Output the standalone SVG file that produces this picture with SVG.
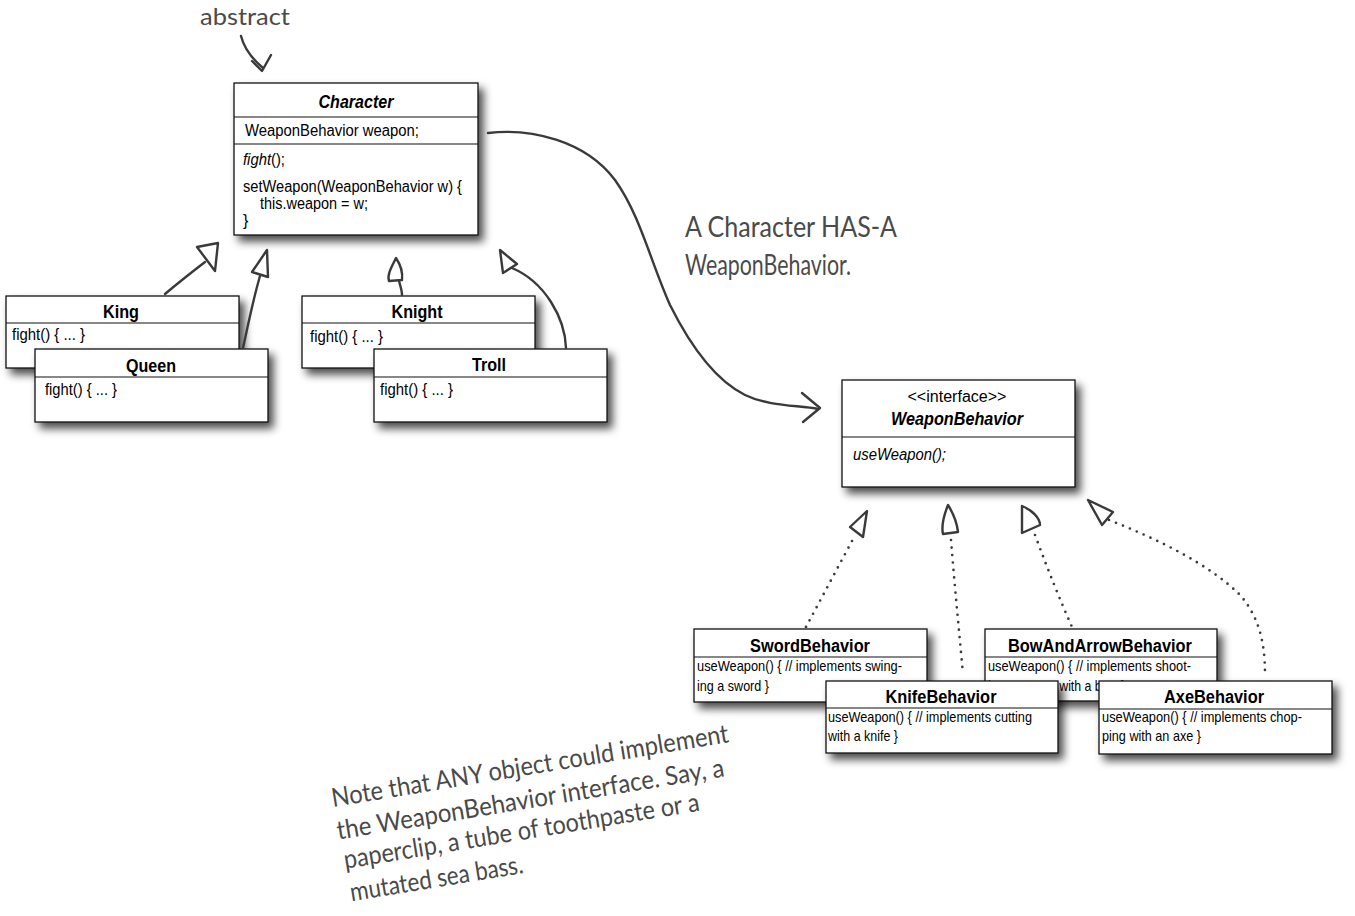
<svg xmlns="http://www.w3.org/2000/svg" width="1355" height="916" viewBox="0 0 1355 916">
<style>
.box{fill:#fff;stroke:#111;stroke-width:1.3;filter:url(#sh)}
.div{stroke:#111;stroke-width:1.2}
.ttl{font-family:"Liberation Sans",Arial,sans-serif;font-weight:bold;font-size:17.5px;fill:#000;text-anchor:middle}
.t{font-family:"Liberation Sans",Arial,sans-serif;font-size:16px;fill:#000}
.s{font-family:"Liberation Sans",Arial,sans-serif;font-size:15px;fill:#000}
.hand{font-family:Lato,"Open Sans",sans-serif;fill:#4a4a4a}
.ln{fill:none;stroke:#3a3a3a;stroke-width:2.4;stroke-linecap:round;stroke-linejoin:round}
.hd{fill:#fff;stroke:#3a3a3a;stroke-width:2.4;stroke-linejoin:round}
.dot{fill:none;stroke:#3a3a3a;stroke-width:2.7;stroke-linecap:round;stroke-dasharray:0 7.5}
</style>
<defs>
<filter id="sh" x="-10%" y="-10%" width="130%" height="140%">
<feDropShadow dx="5" dy="6" stdDeviation="4" flood-color="#000" flood-opacity="0.7"/>
</filter>
</defs>
<rect width="1355" height="916" fill="#fff"/>

<g id="abstract-note">
<text class="hand" x="200" y="25" font-size="24" textLength="90" lengthAdjust="spacingAndGlyphs">abstract</text>
</g>

<g id="Character">
<rect class="box" x="234" y="83" width="244" height="152"/>
<line class="div" x1="234" y1="117" x2="478" y2="117"/>
<line class="div" x1="234" y1="144" x2="478" y2="144"/>
<text class="ttl" x="356" y="108" font-style="italic" font-size="18" textLength="75" lengthAdjust="spacingAndGlyphs">Character</text>
<text class="t" x="245" y="136" font-size="17" textLength="174" lengthAdjust="spacingAndGlyphs">WeaponBehavior weapon;</text>
<text class="t" x="243" y="165" font-size="17" textLength="42" lengthAdjust="spacingAndGlyphs"><tspan font-style="italic">fight</tspan>();</text>
<text class="t" x="243" y="192" font-size="17" textLength="219" lengthAdjust="spacingAndGlyphs">setWeapon(WeaponBehavior w) {</text>
<text class="t" x="260" y="209" font-size="17" textLength="108" lengthAdjust="spacingAndGlyphs">this.weapon = w;</text>
<text class="t" x="243" y="226" font-size="17">}</text>
</g>

<g id="King">
<rect class="box" x="6" y="296" width="233" height="72"/>
<line class="div" x1="6" y1="323" x2="239" y2="323"/>
<text class="ttl" x="121" y="318" textLength="36" lengthAdjust="spacingAndGlyphs">King</text>
<text class="t" x="12" y="340" textLength="73" lengthAdjust="spacingAndGlyphs">fight() { ... }</text>
</g>

<g id="Queen">
<rect class="box" x="35" y="349" width="233" height="73"/>
<line class="div" x1="35" y1="377" x2="268" y2="377"/>
<text class="ttl" x="151" y="372" textLength="50" lengthAdjust="spacingAndGlyphs">Queen</text>
<text class="t" x="45" y="395" textLength="72" lengthAdjust="spacingAndGlyphs">fight() { ... }</text>
</g>

<g id="Knight">
<rect class="box" x="302" y="296" width="233" height="72"/>
<line class="div" x1="302" y1="323" x2="535" y2="323"/>
<text class="ttl" x="417" y="318" textLength="51" lengthAdjust="spacingAndGlyphs">Knight</text>
<text class="t" x="310" y="342" textLength="73" lengthAdjust="spacingAndGlyphs">fight() { ... }</text>
</g>

<g id="Troll">
<rect class="box" x="374" y="349" width="233" height="73"/>
<line class="div" x1="374" y1="377" x2="607" y2="377"/>
<text class="ttl" x="489" y="371" textLength="34" lengthAdjust="spacingAndGlyphs">Troll</text>
<text class="t" x="380" y="395" textLength="73" lengthAdjust="spacingAndGlyphs">fight() { ... }</text>
</g>

<g id="has-a-note">
<text class="hand" x="685" y="237" font-size="28" textLength="212" lengthAdjust="spacingAndGlyphs">A Character HAS-A</text>
<text class="hand" x="685" y="275" font-size="28" textLength="166" lengthAdjust="spacingAndGlyphs">WeaponBehavior.</text>
</g>

<g id="WeaponBehavior">
<rect class="box" x="842" y="380" width="233" height="107"/>
<line class="div" x1="842" y1="437" x2="1075" y2="437"/>
<text class="t" x="957" y="402" font-size="17" text-anchor="middle" textLength="99" lengthAdjust="spacingAndGlyphs">&lt;&lt;interface&gt;&gt;</text>
<text class="ttl" x="957" y="425" font-style="italic" font-size="18" textLength="132" lengthAdjust="spacingAndGlyphs">WeaponBehavior</text>
<text class="t" x="853" y="460" font-size="17" font-style="italic" textLength="93" lengthAdjust="spacingAndGlyphs">useWeapon();</text>
</g>

<g id="SwordBehavior">
<rect class="box" x="694" y="629" width="233" height="73"/>
<line class="div" x1="694" y1="657" x2="927" y2="657"/>
<text class="ttl" x="810" y="652" textLength="120" lengthAdjust="spacingAndGlyphs">SwordBehavior</text>
<text class="s" x="697" y="671" textLength="205" lengthAdjust="spacingAndGlyphs">useWeapon() { // implements swing-</text>
<text class="s" x="697" y="691" textLength="72" lengthAdjust="spacingAndGlyphs">ing a sword }</text>
</g>

<g id="BowAndArrowBehavior">
<rect class="box" x="985" y="629" width="232" height="72"/>
<line class="div" x1="985" y1="657" x2="1217" y2="657"/>
<text class="ttl" x="1100" y="652" textLength="184" lengthAdjust="spacingAndGlyphs">BowAndArrowBehavior</text>
<text class="s" x="988" y="671" textLength="203" lengthAdjust="spacingAndGlyphs">useWeapon() { // implements shoot-</text>
<text class="s" x="988" y="691" textLength="137" lengthAdjust="spacingAndGlyphs">ing an arrow with a bow }</text>
</g>

<g id="KnifeBehavior">
<rect class="box" x="826" y="681" width="232" height="72"/>
<line class="div" x1="826" y1="708" x2="1058" y2="708"/>
<text class="ttl" x="941" y="703" textLength="111" lengthAdjust="spacingAndGlyphs">KnifeBehavior</text>
<text class="s" x="828" y="722" textLength="204" lengthAdjust="spacingAndGlyphs">useWeapon() { // implements cutting</text>
<text class="s" x="828" y="741" textLength="70" lengthAdjust="spacingAndGlyphs">with a knife }</text>
</g>

<g id="AxeBehavior">
<rect class="box" x="1099" y="681" width="233" height="73"/>
<line class="div" x1="1099" y1="709" x2="1332" y2="709"/>
<text class="ttl" x="1214" y="703" textLength="100" lengthAdjust="spacingAndGlyphs">AxeBehavior</text>
<text class="s" x="1102" y="722" textLength="200" lengthAdjust="spacingAndGlyphs">useWeapon() { // implements chop-</text>
<text class="s" x="1102" y="741" textLength="99" lengthAdjust="spacingAndGlyphs">ping with an axe }</text>
</g>

<g id="any-object-note" transform="rotate(-9.3 333 807)">
<text class="hand" x="333" y="807" font-size="26" textLength="402" lengthAdjust="spacingAndGlyphs">Note that ANY object could implement</text>
<text class="hand" x="333" y="840" font-size="26" textLength="392" lengthAdjust="spacingAndGlyphs">the WeaponBehavior interface.  Say, a</text>
<text class="hand" x="335" y="870" font-size="26" textLength="360" lengthAdjust="spacingAndGlyphs">paperclip, a tube of toothpaste or a</text>
<text class="hand" x="336" y="903" font-size="26" textLength="175" lengthAdjust="spacingAndGlyphs">mutated sea bass.</text>
</g>

<g id="connectors">
<path class="ln" d="M241,36 C244,48 250,57 263,68"/>
<path class="ln" d="M252,61 L262,71 L271,55"/>
<path class="ln" d="M488,133 C530,128 585,140 615,180 C640,215 650,260 670,305 C690,345 715,380 745,395 C770,407 800,405 818,409"/>
<path class="ln" d="M802,393 L820,408 L803,422"/>
<path class="ln" d="M165,294 C178,283 192,272 205,262"/>
<path class="hd" d="M197,247 L218,243 L215,271 Z"/>
<path class="ln" d="M243,348 C248,325 253,300 260,276"/>
<path class="hd" d="M267,250 L252,272 L268,277 Z"/>
<path class="ln" d="M402,295 C402,290 400,285 399,281"/>
<path class="hd" d="M396,258 C391,268 387,275 389,281 L402,280 C403,272 400,264 396,258 Z"/>
<path class="ln" d="M566,348 C565,318 545,282 512,268"/>
<path class="hd" d="M500,250 L503,273 L517,264 Z"/>
<path class="dot" d="M852,541 L806,627"/>
<path class="hd" d="M850,527 L867,511 L863,537 Z"/>
<path class="dot" d="M951,540 C955,590 959,630 963,674"/>
<path class="hd" d="M948,505 C944,515 941,525 943,534 L958,532 C957,523 953,513 948,505 Z"/>
<path class="dot" d="M1035,535 C1048,570 1060,600 1072,627"/>
<path class="hd" d="M1022,506 C1032,510 1040,518 1040,525 L1022,533 Z"/>
<path class="dot" d="M1109,520 C1160,540 1210,565 1240,595 C1262,620 1265,650 1265,675"/>
<path class="hd" d="M1088,500 L1113,512 L1102,525 Z"/>
</g>
</svg>
